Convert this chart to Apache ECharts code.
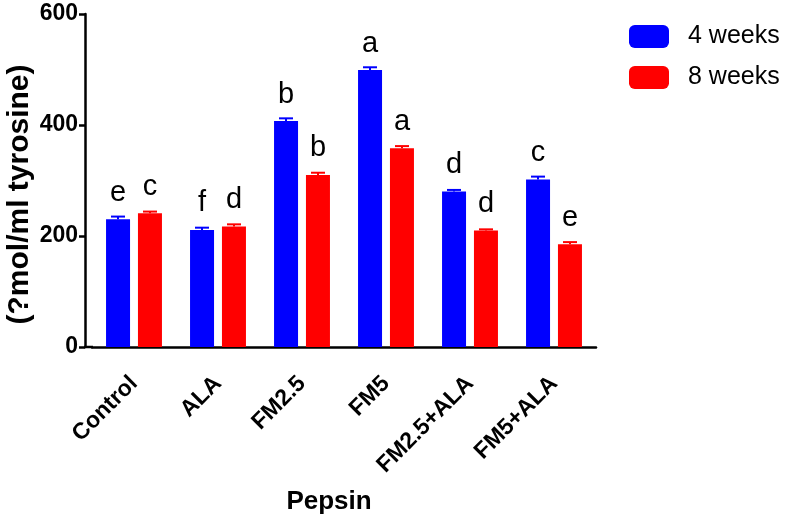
<!DOCTYPE html>
<html>
<head>
<meta charset="utf-8">
<script src="https://cdn.jsdelivr.net/npm/echarts@6/dist/echarts.min.js"></script>
<style>
html,body{margin:0;padding:0;background:#fff;}
#chart{width:787px;height:520px;}
</style>
</head>
<body>
<div id="chart"></div>
<script>
const categories = ['Control', 'ALA', 'FM2.5', 'FM5', 'FM2.5+ALA', 'FM5+ALA'];
const seriesNames = ['4 weeks', '8 weeks'];
const weeks4 = [230, 211, 407, 499, 280, 302];
const weeks8 = [241, 217, 310, 358, 210, 185];
const err4 = [5, 4, 5, 5, 3, 5];
const err8 = [3, 4, 4, 4, 2, 4];
const letters4 = ['e', 'f', 'b', 'a', 'd', 'c'];
const letters8 = ['c', 'd', 'b', 'a', 'd', 'e'];
const yTicks = [0, 200, 400, 600];

const FONT = 'Liberation Sans, Arial, Helvetica, sans-serif';
const BLUE = '#0000ff';
const RED = '#ff0000';
const chart = echarts.init(document.getElementById('chart'), null, {renderer: 'canvas'});

function errSeries(values, errs, color, shift) {
  return {
    type: 'custom',
    silent: true,
    z: 1,
    data: values.map((v, i) => [i, v, errs[i]]),
    renderItem: function (params, api) {
      const base = api.coord([api.value(0), api.value(1)]);
      const top = api.coord([api.value(0), api.value(1) + api.value(2)]);
      const x = base[0] + shift;
      return {
        type: 'group',
        children: [
          {type: 'line', shape: {x1: x, y1: base[1], x2: x, y2: top[1]}, style: {stroke: color, lineWidth: 2}},
          {type: 'line', shape: {x1: x - 7, y1: top[1], x2: x + 7, y2: top[1]}, style: {stroke: color, lineWidth: 2}}
        ]
      };
    }
  };
}

function barSeries(name, values, letters, color) {
  return {
    name: name,
    type: 'bar',
    barWidth: 24,
    barGap: '33%',
    z: 2,
    itemStyle: {color: color},
    data: values,
    label: {
      show: true,
      position: 'top',
      distance: 12,
      formatter: p => letters[p.dataIndex],
      fontFamily: FONT,
      fontSize: 29,
      color: '#000'
    }
  };
}

chart.setOption({
  animation: false,
  backgroundColor: '#fff',
  grid: {left: 92, right: 191, top: 14, bottom: 173, containLabel: false, outerBoundsMode: 'none'},
  legend: {
    orient: 'vertical',
    left: 629,
    top: 24,
    padding: 0,
    itemWidth: 40,
    itemHeight: 23,
    itemGap: 16,
    icon: 'roundRect',
    data: seriesNames,
    textStyle: {fontFamily: FONT, fontSize: 25, color: '#000', padding: [0, 0, 0, 14]}
  },
  xAxis: {
    type: 'category',
    data: categories,
    name: 'Pepsin',
    nameLocation: 'middle',
    nameGap: 142,
    nameMoveOverlap: false,
    nameTextStyle: {fontFamily: FONT, fontSize: 26, fontWeight: 'bold', color: '#000', padding: [0, 30, 0, 0]},
    axisLine: {lineStyle: {color: '#000', width: 2.5}},
    axisTick: {alignWithLabel: true, length: 7, lineStyle: {color: '#000', width: 2.5}},
    axisLabel: {rotate: 45, margin: 33, fontFamily: FONT, fontSize: 23, fontWeight: 'bold', color: '#000'}
  },
  yAxis: {
    type: 'value',
    min: 0,
    max: 600,
    interval: 200,
    offset: 7,
    name: '(?mol/ml tyrosine)',
    nameLocation: 'middle',
    nameGap: 50,
    nameMoveOverlap: false,
    nameTextStyle: {fontFamily: FONT, fontSize: 30, fontWeight: 'bold', color: '#000', padding: [0, 28, 0, 0]},
    splitLine: {show: false},
    axisLine: {show: true, lineStyle: {color: '#000', width: 2.5}},
    axisTick: {show: true, length: 6, lineStyle: {color: '#000', width: 2.5}},
    axisLabel: {margin: 7, fontFamily: FONT, fontSize: 23, fontWeight: 'bold', color: '#000',
      formatter: v => (yTicks.indexOf(v) >= 0 ? String(v) : '')}
  },
  graphic: [{
    type: 'line',
    shape: {x1: 84, y1: 347, x2: 93, y2: 347},
    style: {stroke: '#000', lineWidth: 2.5}
  }],
  series: [
    barSeries(seriesNames[0], weeks4, letters4, BLUE),
    barSeries(seriesNames[1], weeks8, letters8, RED),
    errSeries(weeks4, err4, BLUE, -16),
    errSeries(weeks8, err8, RED, 16)
  ]
});
</script>
</body>
</html>
